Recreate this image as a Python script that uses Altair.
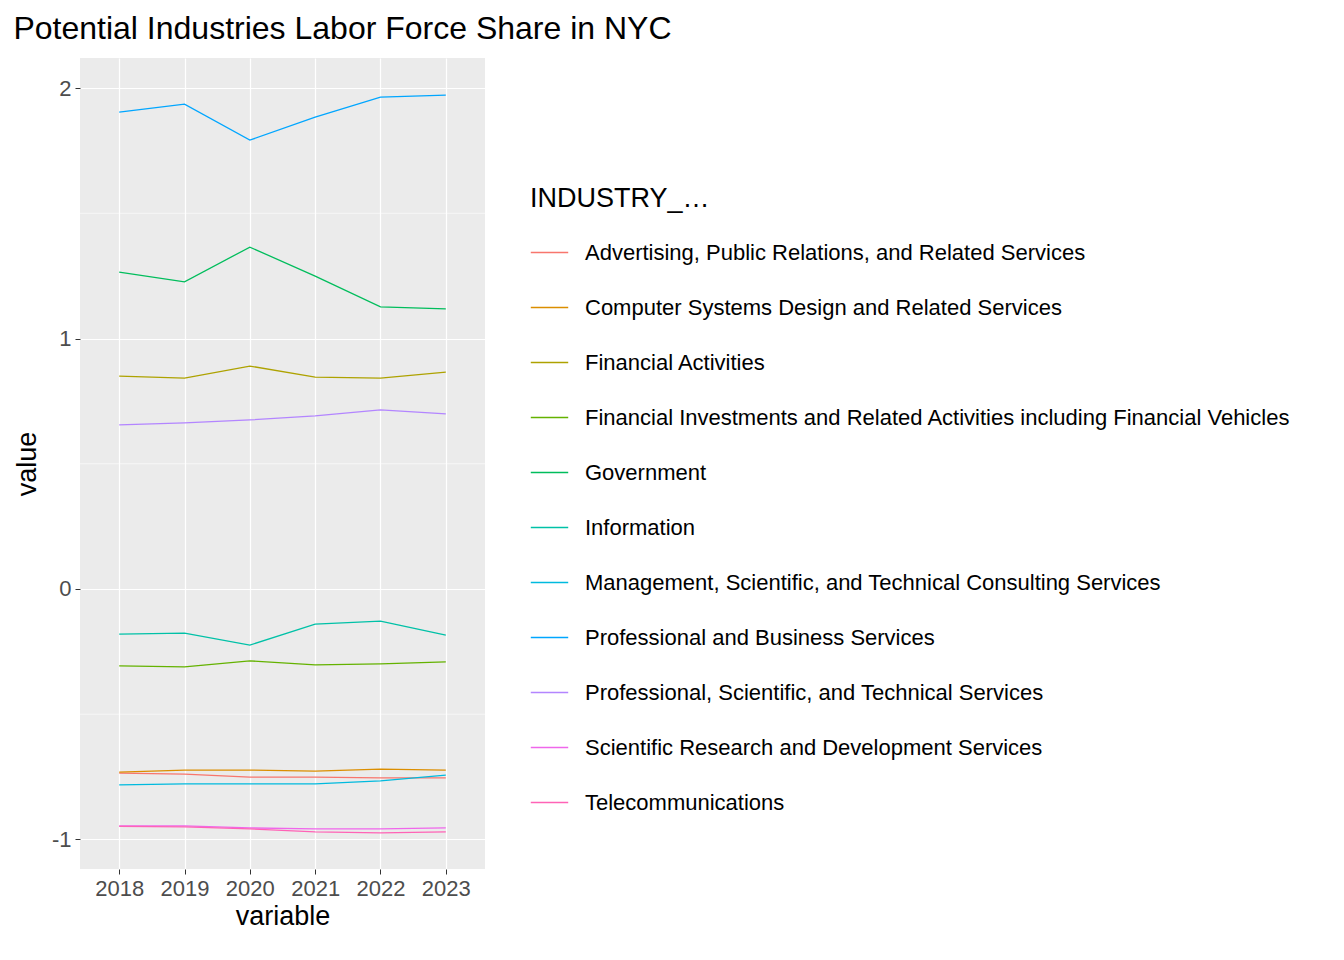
import altair as alt
import pandas as pd

years = ["2018", "2019", "2020", "2021", "2022", "2023"]
industries = [
    "Advertising, Public Relations, and Related Services",
    "Computer Systems Design and Related Services",
    "Financial Activities",
    "Financial Investments and Related Activities including Financial Vehicles",
    "Government",
    "Information",
    "Management, Scientific, and Technical Consulting Services",
    "Professional and Business Services",
    "Professional, Scientific, and Technical Services",
    "Scientific Research and Development Services",
    "Telecommunications",
]
values = [
    [-0.735, -0.739, -0.751, -0.751, -0.754, -0.754],
    [-0.731, -0.723, -0.723, -0.727, -0.719, -0.723],
    [0.850, 0.842, 0.890, 0.846, 0.842, 0.866],
    [-0.307, -0.311, -0.287, -0.303, -0.299, -0.291],
    [1.265, 1.226, 1.365, 1.249, 1.126, 1.118],
    [-0.180, -0.176, -0.224, -0.140, -0.128, -0.184],
    [-0.782, -0.778, -0.778, -0.778, -0.766, -0.743],
    [1.904, 1.936, 1.792, 1.884, 1.964, 1.972],
    [0.655, 0.663, 0.675, 0.691, 0.715, 0.699],
    [-0.946, -0.946, -0.954, -0.958, -0.958, -0.954],
    [-0.948, -0.950, -0.958, -0.970, -0.974, -0.970],
]
colors = ["#F8766D", "#DB8E00", "#AEA200", "#64B200", "#00BD5C", "#00C1A7",
          "#00BADE", "#00A6FF", "#B385FF", "#EF67EB", "#FF63B6"]
minor = [-0.5, 0.5, 1.5]

rows = [{"INDUSTRY_TITLE": ind, "variable": y, "value": v}
        for ind, vals in zip(industries, values) for y, v in zip(years, vals)]
df = pd.DataFrame(rows)

ydom = [-1.118, 2.12]
yscale = alt.Scale(domain=ydom, nice=False, zero=False)
xscale = alt.Scale(type="point", padding=0.6, domain=years)

minor_grid = alt.Chart(pd.DataFrame({"m": minor})).mark_rule(
    color="white", strokeWidth=0.6).encode(y=alt.Y("m:Q", scale=yscale))

lines = alt.Chart(df).mark_line(strokeWidth=1.3).encode(
    x=alt.X("variable:O", scale=xscale, title="variable",
            axis=alt.Axis(labelAngle=0, grid=True, gridColor="white", gridWidth=1.2,
                          tickColor="#333333", tickSize=5, labelColor="#4D4D4D",
                          labelFontSize=22, titleFontSize=27, titleFontWeight="normal",
                          titleColor="black", domain=False, labelPadding=4, titlePadding=4)),
    y=alt.Y("value:Q", scale=yscale, title="value",
            axis=alt.Axis(values=[-1, 0, 1, 2], labelExpr="'' + datum.value",
                          grid=True, gridColor="white", gridWidth=1.2,
                          tickColor="#333333", tickSize=5, labelColor="#4D4D4D",
                          labelFontSize=22, titleFontSize=27, titleFontWeight="normal",
                          titleColor="black", domain=False, labelPadding=4, titlePadding=10)),
    color=alt.Color("INDUSTRY_TITLE:N", scale=alt.Scale(domain=industries, range=colors),
                    legend=alt.Legend(orient="none", legendX=450, legendY=128,
                                      symbolType="stroke", symbolSize=1400,
                                      symbolStrokeWidth=1.5, labelFontSize=22,
                                      titleFontSize=27, titleFontWeight="normal",
                                      labelLimit=1000, rowPadding=24, labelOffset=16,
                                      titlePadding=20, labelColor="black")),
)

chart = alt.layer(minor_grid, lines).properties(
    width=405, height=811,
    title=alt.Title("Potential Industries Labor Force Share in NYC", anchor="start",
                    fontSize=32, fontWeight="normal", offset=12),
).configure(font="Liberation Sans").configure_view(fill="#EBEBEB", stroke=None)

chart.save("out.html", embed_options={"renderer": "svg", "actions": False})
